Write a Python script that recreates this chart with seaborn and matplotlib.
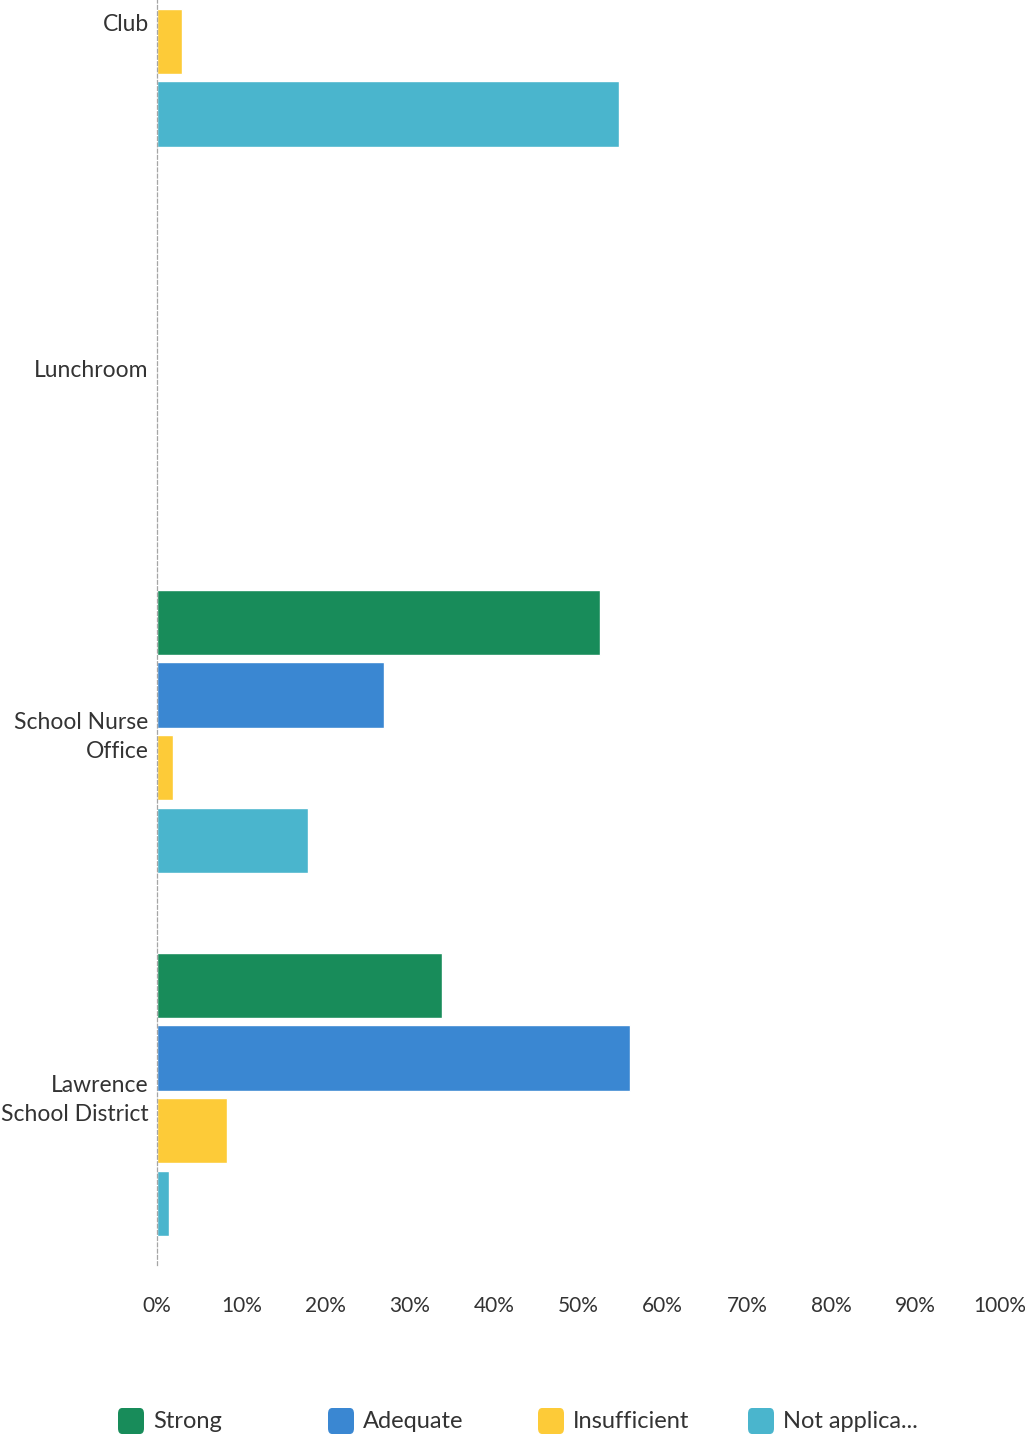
import numpy as np
import pandas as pd
import matplotlib
matplotlib.use("Agg")
import matplotlib.pyplot as plt
import matplotlib.transforms as mtransforms
from matplotlib.patches import FancyBboxPatch
import seaborn as sns

# Dati (percentuali); Strong/Adequate di "Club" sono fuori dall'immagine
places = ["Club", "Lunchroom", "School Nurse\nOffice", "Lawrence\nSchool District"]
ratings = ["Strong", "Adequate", "Insufficient", "Not applica..."]
strong = [np.nan, 0, 52.6, 33.8]
adequate = [np.nan, 0, 26.9, 56.1]
insufficient = [3.0, 0, 1.9, 8.3]
not_applicable = [54.8, 0, 17.9, 1.4]
tick_labels = ["0%", "10%", "20%", "30%", "40%", "50%", "60%", "70%", "80%", "90%", "100%"]

colors = ["#188c5a", "#3a87d2", "#fdcb38", "#4ab5cd"]

rows = []
for serie, vals in zip(ratings, [strong, adequate, insufficient, not_applicable]):
    for p, v in zip(places, vals):
        rows.append({"place": p, "rating": serie, "pct": v})
df = pd.DataFrame(rows)

sns.set_style("white")
plt.rcParams["font.family"] = ["Lato", "DejaVu Sans"]

W, H = 1025, 1439
fig = plt.figure(figsize=(W / 100, H / 100), dpi=100)
ax = fig.add_axes([157 / W, 1 - 1265 / H, (1000 - 157) / W, 1265 / H])

sns.barplot(data=df, y="place", x="pct", hue="rating", order=places, hue_order=ratings,
            palette=colors, orient="h", width=0.8, gap=0.1, saturation=1,
            errorbar=None, legend=False, ax=ax)

ax.set_xlim(0, 100)
ax.set_ylim(3.47, -0.014)
ax.set_xticks(np.arange(0, 101, 10))
ax.set_xticklabels(tick_labels, fontsize=15, color="#333333")
ax.tick_params(axis="x", length=0, pad=22)
ax.tick_params(axis="y", length=0, pad=6, labelsize=16.5, labelcolor="#333333")
for lbl in ax.get_yticklabels():
    lbl.set_linespacing(1.45)
# la prima riga dell'etichetta "Club" è tagliata nell'originale: si sposta giù solo "Club"
club = ax.get_yticklabels()[0]
club.set_transform(club.get_transform() + mtransforms.ScaledTranslation(0, -0.17, fig.dpi_scale_trans))
ax.set_xlabel("")
ax.set_ylabel("")
for s in ["top", "right", "bottom"]:
    ax.spines[s].set_visible(False)
ax.spines["left"].set_color("#a5a5a5")
ax.spines["left"].set_linewidth(0.9)
ax.spines["left"].set_linestyle((0, (3, 2)))

# Legenda manuale, voci equidistanti come nell'originale
for i, (name, col) in enumerate(zip(ratings, colors)):
    x0 = 118 + 210 * i
    y0 = 1421
    box = FancyBboxPatch((x0 / W, 1 - (y0 + 13) / H), 26 / W, 26 / H,
                         boxstyle="round,pad=0,rounding_size=0.004",
                         transform=fig.transFigure, facecolor=col, edgecolor="none")
    fig.patches.append(box)
    fig.text((x0 + 35) / W, 1 - (y0 + 1) / H, name, fontsize=17, color="#333333",
             ha="left", va="center")

fig.savefig("out.png", dpi=100)
